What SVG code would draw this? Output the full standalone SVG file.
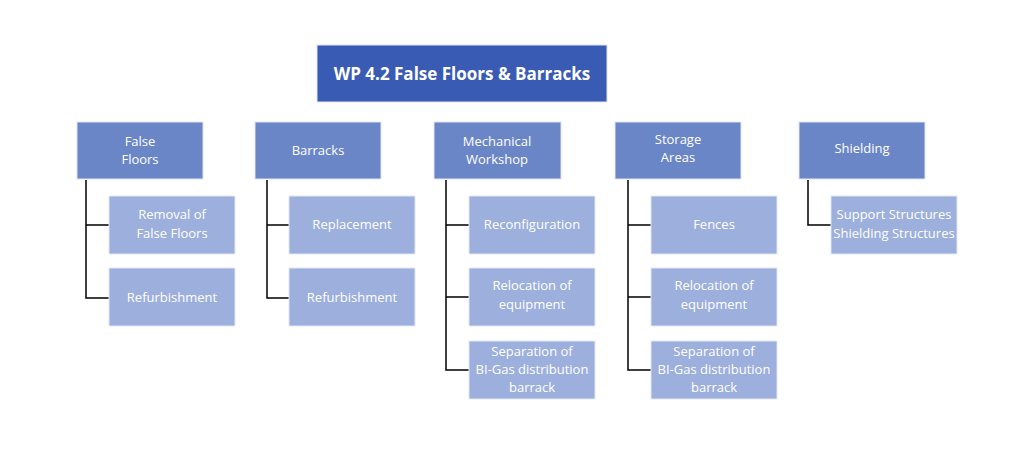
<svg xmlns="http://www.w3.org/2000/svg" width="1024" height="455" viewBox="0 0 1024 455">
<style>
.top{fill:#3A5BB4;stroke:#dfe5f3;stroke-width:1}
.l1{fill:#6A86C7;stroke:#dfe5f3;stroke-width:1}
.l2{fill:#9CAFDD;stroke:#e3e8f5;stroke-width:1}
text{font-family:"Open Sans","Noto Sans","Liberation Sans",sans-serif;fill:#ffffff;text-anchor:middle}
.t1{font-size:17px;font-weight:bold}
.t2{font-size:13px}
.c{stroke:#000;stroke-width:1.5;fill:none}
</style>
<rect width="1024" height="455" fill="#ffffff"/>
<g id="root"><rect class="top" x="317" y="45" width="290" height="57"/><text class="t1" x="462" y="80">WP 4.2 False Floors &amp; Barracks</text></g>
<g id="connectors">
<path class="c" d="M86 180V298H109M86 225H109"/>
<path class="c" d="M267 180V298H289M267 225H289"/>
<path class="c" d="M446 180V370H469M446 225H469M446 297H469"/>
<path class="c" d="M628 180V370H651M628 225H651M628 297H651"/>
<path class="c" d="M808 180V225H831"/>
</g>
<g id="false-floors"><rect class="l1" x="77" y="122" width="126" height="57"/><text class="t2" x="140" y="146">False</text><text class="t2" x="140" y="164">Floors</text></g>
<g id="removal"><rect class="l2" x="109" y="196" width="126" height="58"/><text class="t2" x="172" y="219">Removal of</text><text class="t2" x="172" y="238">False Floors</text></g>
<g id="refurb1"><rect class="l2" x="109" y="268" width="126" height="58"/><text class="t2" x="172" y="302">Refurbishment</text></g>
<g id="barracks"><rect class="l1" x="255" y="122" width="126" height="57"/><text class="t2" x="318" y="155">Barracks</text></g>
<g id="replacement"><rect class="l2" x="289" y="196" width="126" height="58"/><text class="t2" x="352" y="229">Replacement</text></g>
<g id="refurb2"><rect class="l2" x="289" y="268" width="126" height="58"/><text class="t2" x="352" y="302">Refurbishment</text></g>
<g id="mech"><rect class="l1" x="434" y="122" width="127" height="57"/><text class="t2" x="497" y="146">Mechanical</text><text class="t2" x="497" y="164">Workshop</text></g>
<g id="reconfig"><rect class="l2" x="469" y="196" width="126" height="58"/><text class="t2" x="532" y="229">Reconfiguration</text></g>
<g id="reloc1"><rect class="l2" x="469" y="268" width="126" height="58"/><text class="t2" x="532" y="290">Relocation of</text><text class="t2" x="532" y="309">equipment</text></g>
<g id="sep1"><rect class="l2" x="469" y="341" width="126" height="58"/><text class="t2" x="532" y="356">Separation of</text><text class="t2" x="532" y="374">BI-Gas distribution</text><text class="t2" x="532" y="392">barrack</text></g>
<g id="storage"><rect class="l1" x="615" y="122" width="126" height="57"/><text class="t2" x="678" y="144">Storage</text><text class="t2" x="678" y="162">Areas</text></g>
<g id="fences"><rect class="l2" x="651" y="196" width="126" height="58"/><text class="t2" x="714" y="229">Fences</text></g>
<g id="reloc2"><rect class="l2" x="651" y="268" width="126" height="58"/><text class="t2" x="714" y="290">Relocation of</text><text class="t2" x="714" y="309">equipment</text></g>
<g id="sep2"><rect class="l2" x="651" y="341" width="126" height="58"/><text class="t2" x="714" y="356">Separation of</text><text class="t2" x="714" y="374">BI-Gas distribution</text><text class="t2" x="714" y="392">barrack</text></g>
<g id="shielding"><rect class="l1" x="799" y="122" width="126" height="57"/><text class="t2" x="862" y="153">Shielding</text></g>
<g id="support"><rect class="l2" x="831" y="196" width="126" height="58"/><text class="t2" x="894" y="219">Support Structures</text><text class="t2" x="894" y="238">Shielding Structures</text></g>
</svg>
